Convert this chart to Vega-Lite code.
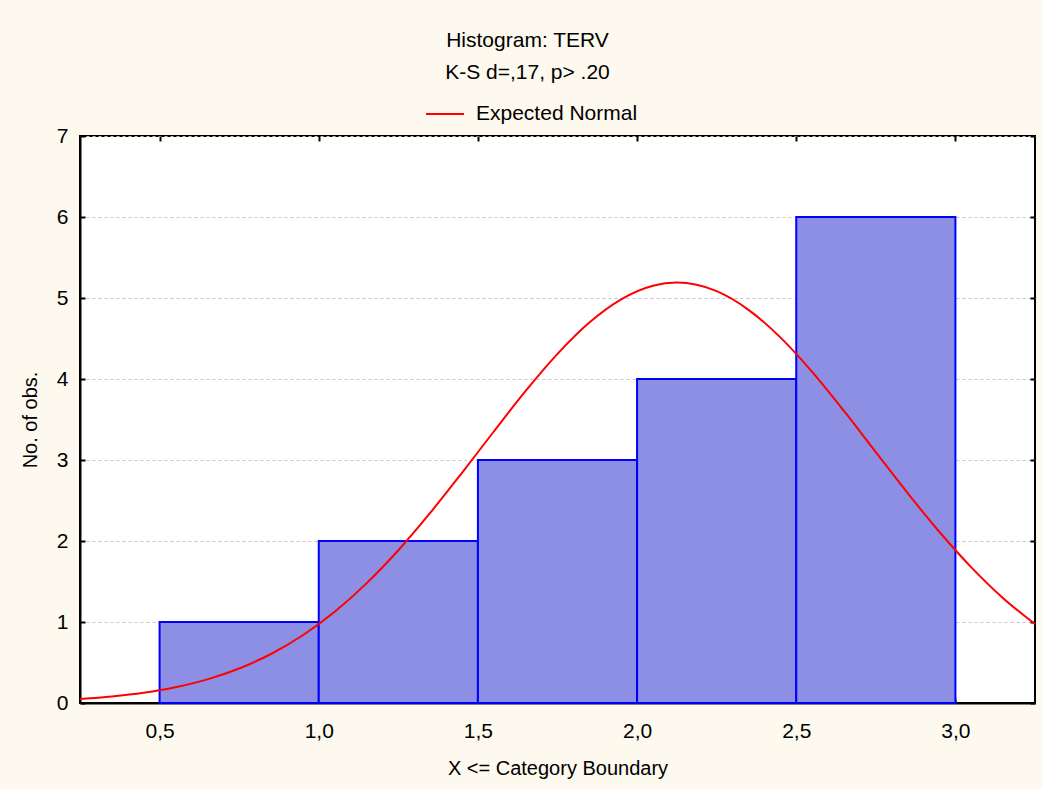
{
  "$schema": "https://vega.github.io/schema/vega-lite/v6.json",
  "autosize": "none",
  "width": 955,
  "height": 567,
  "padding": {"left": 80, "top": 136, "right": 7, "bottom": 86},
  "background": "#fdf9ef",
  "config": {
    "font": "Liberation Sans",
    "view": {"fill": "white", "stroke": "black", "strokeWidth": 2},
    "axis": {"labelFont": "Liberation Sans", "titleFont": "Liberation Sans", "labelColor": "black", "titleColor": "black", "labelFontSize": 21, "titleFontSize": 20, "titleFontWeight": "normal", "domainColor": "black", "tickColor": "black", "domainWidth": 2, "tickWidth": 2}
  },
  "title": {
    "text": "Histogram: TERV",
    "subtitle": "K-S d=,17, p> .20",
    "font": "Liberation Sans",
    "fontSize": 21,
    "fontWeight": "normal",
    "color": "black",
    "subtitleFont": "Liberation Sans",
    "subtitleFontSize": 21,
    "subtitleColor": "black",
    "subtitlePadding": 11,
    "anchor": "middle",
    "dx": -30,
    "offset": 11
  },
  "datasets": {
    "bins": [
      {"lo": 0.5, "hi": 1.0, "count": 1},
      {"lo": 1.0, "hi": 1.5, "count": 2},
      {"lo": 1.5, "hi": 2.0, "count": 3},
      {"lo": 2.0, "hi": 2.5, "count": 4},
      {"lo": 2.5, "hi": 3.0, "count": 6}
    ],
    "curve": [
      {"x": 0.25, "y": 0.050},
      {"x": 0.35, "y": 0.081},
      {"x": 0.45, "y": 0.127},
      {"x": 0.55, "y": 0.195},
      {"x": 0.65, "y": 0.292},
      {"x": 0.75, "y": 0.426},
      {"x": 0.85, "y": 0.605},
      {"x": 0.95, "y": 0.836},
      {"x": 1.05, "y": 1.126},
      {"x": 1.15, "y": 1.477},
      {"x": 1.25, "y": 1.886},
      {"x": 1.35, "y": 2.346},
      {"x": 1.45, "y": 2.842},
      {"x": 1.55, "y": 3.352},
      {"x": 1.65, "y": 3.852},
      {"x": 1.75, "y": 4.310},
      {"x": 1.85, "y": 4.697},
      {"x": 1.95, "y": 4.984},
      {"x": 2.05, "y": 5.152},
      {"x": 2.125, "y": 5.190},
      {"x": 2.25, "y": 5.084},
      {"x": 2.35, "y": 4.854},
      {"x": 2.45, "y": 4.514},
      {"x": 2.55, "y": 4.088},
      {"x": 2.65, "y": 3.605},
      {"x": 2.75, "y": 3.097},
      {"x": 2.85, "y": 2.591},
      {"x": 2.95, "y": 2.111},
      {"x": 3.05, "y": 1.675},
      {"x": 3.15, "y": 1.294},
      {"x": 3.25, "y": 0.974}
    ]
  },
  "layer": [
    {
      "data": {"name": "bins"},
      "mark": {"type": "bar", "fill": "#8c8fe4", "stroke": "#0000ff", "strokeWidth": 2},
      "encoding": {
        "x": {
          "field": "lo", "type": "quantitative",
          "scale": {"domain": [0.25, 3.25], "nice": false, "zero": false},
          "axis": {"orient": "bottom", "values": [0.5, 1, 1.5, 2, 2.5, 3], "grid": false, "tickSize": -5, "labelPadding": 22, "labelExpr": "replace(format(datum.value, '.1f'), '.', ',')", "title": "X <= Category Boundary", "titlePadding": 17}
        },
        "x2": {"field": "hi"},
        "y": {
          "field": "count", "type": "quantitative",
          "scale": {"domain": [0, 7], "nice": false},
          "axis": {"orient": "left", "values": [0, 1, 2, 3, 4, 5, 6, 7], "grid": true, "gridDash": [3, 3], "gridColor": "#c4c4c4", "gridWidth": 1, "tickSize": -5, "labelPadding": 17, "title": "No. of obs.", "titlePadding": 16}
        },
        "y2": {"datum": 0}
      }
    },
    {
      "data": {"name": "curve"},
      "mark": {"type": "line", "strokeWidth": 2, "interpolate": "monotone"},
      "encoding": {
        "x": {
          "field": "x", "type": "quantitative",
          "axis": {"orient": "top", "values": [0.5, 1, 1.5, 2, 2.5, 3], "labels": false, "grid": false, "domain": false, "tickSize": -5, "title": null}
        },
        "y": {
          "field": "y", "type": "quantitative",
          "axis": {"orient": "right", "values": [0, 1, 2, 3, 4, 5, 6, 7], "labels": false, "grid": false, "domain": false, "tickSize": -5, "title": null}
        },
        "color": {
          "datum": "Expected Normal",
          "scale": {"range": ["#ff0000"]},
          "legend": {"orient": "none", "legendX": 345, "legendY": -42, "title": null, "symbolType": "stroke", "symbolSize": 1444, "symbolStrokeWidth": 2, "labelFontSize": 21, "labelFont": "Liberation Sans", "labelColor": "black", "labelOffset": 11, "labelLimit": 400}
        }
      }
    }
  ],
  "resolve": {"axis": {"x": "independent", "y": "independent"}}
}
